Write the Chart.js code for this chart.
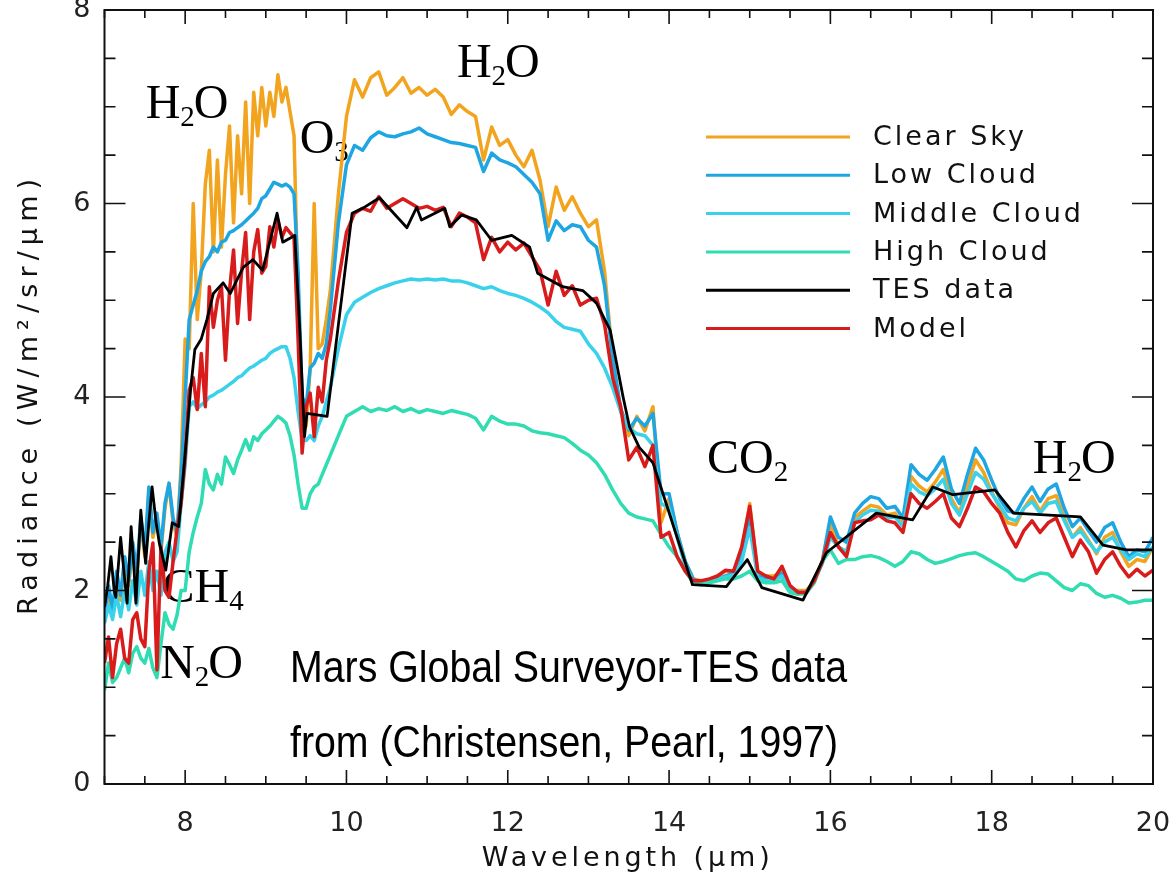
<!DOCTYPE html>
<html>
<head>
<meta charset="utf-8">
<title>Mars spectrum: TES data vs cloud models</title>
<script src="https://cdn.jsdelivr.net/npm/chart.js@4.4.1/dist/chart.umd.min.js"></script>
<style>
  html, body { margin: 0; padding: 0; background: #fff; }
  #wrap { width: 1176px; height: 884px; }
</style>
</head>
<body>
<div id="wrap"><canvas id="spectrum" width="1176" height="884"></canvas></div>
<script>
// Wavelength grid (µm) shared by the modelled spectra
const wavelength = [
  7.00, 7.05, 7.10, 7.15, 7.20, 7.25, 7.30, 7.35, 7.40, 7.45, 7.50, 7.55, 7.60, 7.65, 7.70, 7.75, 7.80, 7.85, 7.90, 7.95,
  8.00, 8.05, 8.10, 8.15, 8.20, 8.25, 8.30, 8.35, 8.40, 8.45, 8.50, 8.55, 8.60, 8.65, 8.70, 8.75, 8.80, 8.85, 8.90, 8.95,
  9.00, 9.05, 9.10, 9.15, 9.20, 9.25, 9.30, 9.35, 9.40, 9.45, 9.50, 9.55, 9.60, 9.65, 9.70, 9.75, 9.80,
  9.9, 10.0, 10.1, 10.2, 10.3, 10.4, 10.5, 10.6, 10.7, 10.8, 10.9, 11.0, 11.1, 11.2, 11.3, 11.4, 11.5, 11.6, 11.7, 11.8, 11.9, 12.0,
  12.1, 12.2, 12.3, 12.4, 12.5, 12.6, 12.7, 12.8, 12.9, 13.0, 13.1, 13.2, 13.3, 13.4, 13.5, 13.6, 13.7, 13.8, 13.9, 14.0,
  14.1, 14.2, 14.3, 14.4, 14.5, 14.6, 14.7, 14.8, 14.9, 15.0, 15.1, 15.2, 15.3, 15.4, 15.5, 15.6, 15.7, 15.8, 15.9, 16.0,
  16.1, 16.2, 16.3, 16.4, 16.5, 16.6, 16.7, 16.8, 16.9, 17.0, 17.1, 17.2, 17.3, 17.4, 17.5, 17.6, 17.7, 17.8, 17.9, 18.0,
  18.1, 18.2, 18.3, 18.4, 18.5, 18.6, 18.7, 18.8, 18.9, 19.0, 19.1, 19.2, 19.3, 19.4, 19.5, 19.6, 19.7, 19.8, 19.9, 20.0
];

// Radiance, W/m²/sr/µm
const clearSky = [
  1.7, 2.0, 1.75, 2.15, 1.9, 2.3, 2.05, 2.45, 2.15, 2.7, 2.35, 3.0, 2.55, 2.75, 2.4, 2.85, 3.1, 2.7, 2.55, 3.3,
  4.6, 4.5, 6.0, 4.8, 5.3, 6.2, 6.55, 5.5, 6.45, 5.55, 6.3, 6.8, 5.8, 6.7, 6.1, 7.05, 6.0, 7.15, 6.7, 7.2,
  6.8, 7.15, 6.9, 7.33, 7.05, 7.2, 6.95, 6.7, 5.0, 3.8, 3.7, 4.3, 6.0, 4.5, 4.55, 4.8, 5.1,
  6.1, 6.9, 7.28, 7.1, 7.3, 7.36, 7.12, 7.2, 7.3, 7.14, 7.2, 7.12, 7.18, 7.1, 6.92, 7.02, 6.95, 6.9, 6.45, 6.79, 6.6, 6.66,
  6.5, 6.38, 6.55, 6.24, 5.76, 6.17, 5.93, 6.07, 5.9, 5.76, 5.83, 5.3, 4.4, 3.85, 3.6, 3.8, 3.65, 3.9, 2.7, 2.95,
  2.6, 2.3, 2.12, 2.1, 2.1, 2.15, 2.2, 2.2, 2.4, 2.9, 2.15, 2.15, 2.15, 2.2, 2.0, 2.0, 2.0, 2.1, 2.3, 2.7,
  2.45, 2.4, 2.75, 2.82, 2.88, 2.86, 2.78, 2.8, 2.68, 3.18, 3.08, 3.02, 3.12, 3.25, 2.95, 2.8, 3.08, 3.35, 3.22, 3.02,
  2.85, 2.7, 2.68, 2.85, 2.97, 2.82, 2.95, 2.98, 2.75, 2.55, 2.65, 2.52, 2.38, 2.55, 2.6, 2.4, 2.25, 2.32, 2.3, 2.45
];

const lowCloud = [
  1.75, 2.05, 1.8, 2.2, 1.95, 2.35, 2.1, 2.5, 2.2, 2.75, 2.4, 3.07, 2.6, 2.8, 2.45, 2.9, 3.11, 2.75, 2.6, 3.2,
  4.0, 4.8, 4.95, 5.1, 5.3, 5.4, 5.45, 5.55, 5.5, 5.6, 5.62, 5.7, 5.72, 5.75, 5.78, 5.82, 5.86, 5.9, 5.95, 6.05,
  6.08, 6.15, 6.22, 6.2, 6.18, 6.2, 6.17, 6.1, 5.3, 4.0, 3.9, 4.3, 4.35, 4.45, 4.4, 4.55, 4.9,
  5.8, 6.4, 6.6, 6.55, 6.68, 6.74, 6.7, 6.69, 6.72, 6.74, 6.78, 6.72, 6.69, 6.66, 6.63, 6.62, 6.6, 6.58, 6.33, 6.52, 6.45, 6.42,
  6.38, 6.3, 6.22, 6.1, 5.62, 5.82, 5.72, 5.78, 5.76, 5.62, 5.55, 5.15, 4.4, 3.88, 3.66, 3.78, 3.7, 3.83, 3.0, 3.0,
  2.6, 2.3, 2.12, 2.08, 2.1, 2.12, 2.15, 2.18, 2.35, 2.75, 2.15, 2.12, 2.12, 2.18, 2.0, 1.98, 1.98, 2.1, 2.3, 2.76,
  2.55, 2.5, 2.8, 2.9, 2.97, 2.95, 2.85, 2.87, 2.75, 3.3, 3.2, 3.14, 3.25, 3.38, 3.05, 2.9, 3.2, 3.47, 3.35, 3.14,
  2.95, 2.82, 2.8, 2.95, 3.07, 2.92, 3.05, 3.1, 2.85, 2.66, 2.75, 2.62, 2.5, 2.65, 2.7, 2.5, 2.35, 2.42, 2.4, 2.55
];

const middleCloud = [
  1.66, 1.85, 1.7, 1.95, 1.73, 2.0, 1.8, 2.1, 1.85, 2.2, 1.95, 2.3, 2.0, 2.2, 1.95, 2.4, 2.5, 2.3, 2.4, 2.9,
  3.3, 3.9, 3.95, 3.88, 3.92, 3.95, 4.0, 4.02, 4.05, 4.07, 4.1, 4.13, 4.16, 4.2, 4.22, 4.26, 4.3, 4.32, 4.35, 4.38,
  4.4, 4.45, 4.48, 4.5, 4.52, 4.52, 4.4, 4.2, 3.85, 3.56, 3.55, 3.6, 3.55, 3.7, 3.8, 3.95, 4.1,
  4.5, 4.85, 4.98, 5.03, 5.08, 5.12, 5.15, 5.18, 5.2, 5.22, 5.21, 5.22, 5.21, 5.22, 5.2, 5.2, 5.18, 5.15, 5.12, 5.14, 5.1, 5.07,
  5.05, 5.02, 4.98, 4.93, 4.87, 4.78, 4.72, 4.7, 4.68, 4.55, 4.45, 4.3, 4.1, 3.85, 3.68, 3.62, 3.6, 3.5, 2.9, 2.85,
  2.55, 2.25, 2.1, 2.08, 2.1, 2.12, 2.14, 2.16, 2.3, 2.65, 2.13, 2.1, 2.1, 2.15, 2.0, 1.98, 1.98, 2.1, 2.28, 2.55,
  2.45, 2.4, 2.7, 2.78, 2.83, 2.82, 2.75, 2.76, 2.66, 3.1, 3.02, 2.98, 3.05, 3.15, 2.9, 2.78, 3.0, 3.22, 3.15, 3.0,
  2.88, 2.75, 2.72, 2.85, 2.92, 2.8, 2.9, 2.92, 2.72, 2.55, 2.62, 2.5, 2.4, 2.5, 2.55, 2.42, 2.32, 2.38, 2.35, 2.45
];

const highCloud = [
  0.97, 1.25, 1.05, 1.1, 1.2, 1.3, 1.15, 1.35, 1.42, 1.3, 1.25, 1.4, 1.2, 1.1, 1.45, 1.77, 1.65, 1.6, 1.75, 2.0,
  2.0, 2.4, 2.6, 2.76, 2.9, 3.25, 3.1, 3.04, 3.2, 3.1, 3.38, 3.3, 3.21, 3.35, 3.45, 3.56, 3.45, 3.59, 3.55, 3.62,
  3.66, 3.7, 3.75, 3.8, 3.77, 3.73, 3.6, 3.4, 3.1, 2.85, 2.85, 3.0, 3.07, 3.1, 3.2, 3.3, 3.4,
  3.6, 3.8, 3.85, 3.9, 3.85, 3.88, 3.86, 3.9, 3.85, 3.88, 3.84, 3.87, 3.85, 3.83, 3.86, 3.84, 3.82, 3.78, 3.66, 3.8, 3.75, 3.72,
  3.72, 3.7, 3.65, 3.63, 3.62, 3.6, 3.58, 3.52, 3.45, 3.4, 3.32, 3.2, 3.04, 2.9, 2.8, 2.76, 2.74, 2.72, 2.58, 2.45,
  2.35, 2.2, 2.08, 2.06, 2.08, 2.1, 2.12, 2.12, 2.15, 2.2, 2.1, 2.08, 2.08, 2.1, 1.98, 1.96, 1.97, 2.08, 2.3, 2.42,
  2.28, 2.32, 2.32, 2.35, 2.36, 2.34, 2.3, 2.25, 2.3, 2.4, 2.38, 2.32, 2.28, 2.3, 2.33, 2.36, 2.38, 2.39, 2.35, 2.3,
  2.25, 2.2, 2.12, 2.1, 2.15, 2.18, 2.17, 2.1, 2.03, 2.0, 2.07, 2.05, 1.97, 1.93, 1.95, 1.92, 1.87, 1.88, 1.9, 1.9
];

const model = [
  1.25, 1.52, 1.1, 1.45, 1.6, 1.3, 1.25, 1.7, 1.77, 1.5, 1.42, 2.2, 2.49, 1.18, 2.45, 2.0, 1.93, 2.3, 2.63, 2.9,
  3.38, 4.07, 4.2, 3.87, 4.45, 3.9, 5.14, 4.72, 5.0, 5.14, 4.38, 5.1, 5.52, 4.76, 5.3, 5.7, 4.8, 5.5, 5.73, 5.28,
  5.35, 5.76, 5.55, 5.83, 5.65, 5.75, 5.7, 5.65, 4.6, 3.42, 3.9, 4.04, 3.59, 4.1, 3.95, 4.38, 4.6,
  5.2, 5.7, 5.9, 5.95, 5.92, 6.07, 5.95, 6.0, 6.05, 6.0, 5.95, 5.97, 5.93, 5.96, 5.76, 5.9, 5.86, 5.8, 5.42, 5.65, 5.5, 5.6,
  5.52, 5.59, 5.45, 5.31, 4.95, 5.3, 5.05, 5.15, 4.95, 5.0, 5.02, 4.75, 4.2, 3.9, 3.35, 3.48, 3.28, 3.5, 2.55, 2.6,
  2.35, 2.2, 2.1, 2.1, 2.12, 2.15, 2.21, 2.2, 2.45, 2.87, 2.2, 2.15, 2.12, 2.25, 2.05, 1.98, 1.98, 2.1, 2.3, 2.6,
  2.45, 2.35, 2.7, 2.72, 2.73, 2.78, 2.72, 2.7, 2.6, 3.0, 2.9, 2.85, 2.92, 3.0, 2.75, 2.66, 2.85, 3.07, 3.02, 2.9,
  2.8, 2.6, 2.45, 2.62, 2.72, 2.6, 2.7, 2.75, 2.55, 2.35, 2.52, 2.4, 2.18, 2.32, 2.4, 2.25, 2.14, 2.22, 2.15, 2.21
];

// TES measurement, coarser sampling
const tesWavelength = [
  7.00, 7.04, 7.08, 7.12, 7.14, 7.20, 7.24, 7.28, 7.33, 7.36, 7.39, 7.45, 7.51, 7.55, 7.59, 7.64, 7.68, 7.76, 7.84, 7.92,
  7.99, 8.07, 8.12, 8.20, 8.27, 8.35, 8.47, 8.56, 8.72, 8.84, 8.96, 9.14, 9.21, 9.36, 9.42, 9.48, 9.51, 9.76,
  10.07, 10.20, 10.41, 10.75, 10.87, 10.93, 11.22, 11.28, 11.43, 11.61, 11.80, 12.05, 12.27, 12.37, 12.68, 12.93,
  13.10, 13.27, 13.43, 13.51, 13.63, 13.80, 14.29, 14.71, 14.97, 15.15, 15.66, 15.95, 16.57, 17.02, 17.27, 17.52,
  18.04, 18.27, 19.10, 19.38, 19.67, 20.00
];
const tesRadiance = [
  1.83, 2.05, 2.35, 2.0, 1.93, 2.55, 2.2, 1.87, 2.66, 2.3, 1.87, 2.83, 2.28, 2.7, 3.07, 2.7, 2.49, 2.21, 2.7, 2.66,
  3.32, 4.1, 4.49, 4.6, 4.8, 5.07, 5.18, 5.07, 5.34, 5.42, 5.31, 5.9, 5.6, 5.67, 4.72, 3.59, 3.83, 3.8,
  5.9, 5.95, 6.06, 5.75, 5.96, 5.83, 5.95, 5.76, 5.88, 5.83, 5.62, 5.67, 5.55, 5.28, 5.14, 5.1,
  4.97, 4.69, 4.0, 3.69, 3.48, 3.32, 2.06, 2.04, 2.32, 2.03, 1.9, 2.39, 2.8, 2.73, 3.07, 2.99,
  3.04, 2.8, 2.76, 2.47, 2.42, 2.42
];

const xTicks = [8, 10, 12, 14, 16, 18, 20];
const yTicks = [0, 2, 4, 6, 8];

// Molecular band labels, anchored at [wavelength, radiance] of their baseline start
const bandLabels = [
  { parts: [['H', 0], ['2', 1], ['O', 0]], at: [7.51, 6.88] },
  { parts: [['O', 0], ['3', 1]], at: [9.42, 6.52] },
  { parts: [['H', 0], ['2', 1], ['O', 0]], at: [11.37, 7.31] },
  { parts: [['C', 0], ['O', 0], ['2', 1]], at: [14.47, 3.21] },
  { parts: [['H', 0], ['2', 1], ['O', 0]], at: [18.51, 3.21] },
  { parts: [['C', 0], ['H', 0], ['4', 1]], at: [7.72, 1.88] },
  { parts: [['N', 0], ['2', 1], ['O', 0]], at: [7.69, 1.10] }
];

const sourceNote = [
  { text: 'Mars Global Surveyor-TES data', at: [9.30, 1.054], width: 557 },
  { text: 'from (Christensen, Pearl, 1997)', at: [9.30, 0.279], width: 548 }
];

const AXIS_FONT = "'DejaVu Sans', 'Liberation Sans', sans-serif";
const SERIF_FONT = "'Liberation Serif', 'Times New Roman', serif";

function toPoints(xs, ys) {
  return xs.map((x, i) => ({ x, y: ys[i] }));
}

// legend order = array order; `order` decides stacking (lower is drawn on top)
const datasets = [
  { label: 'Clear Sky',    data: toPoints(wavelength, clearSky),    borderColor: '#f2a41f', order: 5 },
  { label: 'Low Cloud',    data: toPoints(wavelength, lowCloud),    borderColor: '#1ea6e2', order: 4 },
  { label: 'Middle Cloud', data: toPoints(wavelength, middleCloud), borderColor: '#3ad2ea', order: 3 },
  { label: 'High Cloud',   data: toPoints(wavelength, highCloud),   borderColor: '#30dcb2', order: 2 },
  { label: 'TES data',     data: toPoints(tesWavelength, tesRadiance), borderColor: '#000000', borderWidth: 2.8, order: 0 },
  { label: 'Model',        data: toPoints(wavelength, model),       borderColor: '#d81c1c', order: 1 }
];

function drawTracked(ctx, text, x, y, targetWidth) {
  // spread characters so the string spans targetWidth
  ctx.letterSpacing = '0px';
  const w = ctx.measureText(text).width;
  const gap = text.length > 1 ? (targetWidth - w) / (text.length - 1) : 0;
  ctx.letterSpacing = gap.toFixed(2) + 'px';
  ctx.textAlign = 'left';
  ctx.fillText(text, x - targetWidth / 2, y);
  ctx.letterSpacing = '0px';
}

const bandLabelPlugin = {
  id: 'bandLabels',
  beforeDatasetsDraw(chart) {
    const { ctx, scales: { x, y } } = chart;
    ctx.save();
    ctx.fillStyle = '#000';
    ctx.textBaseline = 'alphabetic';
    ctx.textAlign = 'left';
    for (const lab of bandLabels) {
      let px = x.getPixelForValue(lab.at[0]);
      const py = y.getPixelForValue(lab.at[1]);
      for (const [txt, sub] of lab.parts) {
        ctx.font = sub ? `29px ${SERIF_FONT}` : `48px ${SERIF_FONT}`;
        ctx.fillText(txt, px, sub ? py + 8 : py);
        px += ctx.measureText(txt).width - (sub ? 1 : 0);
      }
    }
    // source note
    ctx.font = `44px 'Liberation Sans Narrow', 'Liberation Sans', Arial, sans-serif`;
    for (const line of sourceNote) {
      const px = x.getPixelForValue(line.at[0]);
      const py = y.getPixelForValue(line.at[1]);
      const w = ctx.measureText(line.text).width;
      ctx.save();
      ctx.translate(px, py);
      ctx.scale(line.width / w, 1);
      ctx.fillText(line.text, 0, 0);
      ctx.restore();
    }
    ctx.restore();
  }
};

const framePlugin = {
  id: 'frame',
  afterDatasetsDraw(chart) {
    const { ctx, chartArea: a, scales: { x, y } } = chart;
    ctx.save();
    ctx.strokeStyle = '#111';
    ctx.lineWidth = 2;
    ctx.strokeRect(a.left, a.top, a.right - a.left, a.bottom - a.top);
    ctx.lineWidth = 1.6;
    ctx.beginPath();
    // inward ticks every 0.5, longer on the labelled values
    for (let v = x.min; v <= x.max; v += 0.5) {
      const px = x.getPixelForValue(v);
      const len = v % 2 === 0 ? 14 : 8;
      ctx.moveTo(px, a.bottom); ctx.lineTo(px, a.bottom - len);
      ctx.moveTo(px, a.top); ctx.lineTo(px, a.top + len);
    }
    for (let v = y.min; v <= y.max; v += 0.5) {
      const py = y.getPixelForValue(v);
      const len = v % 2 === 0 ? 21 : 11;
      ctx.moveTo(a.left, py); ctx.lineTo(a.left + len, py);
      ctx.moveTo(a.right, py); ctx.lineTo(a.right - len, py);
    }
    ctx.stroke();
    ctx.restore();
  }
};

const legendAndTitles = {
  id: 'legendAndTitles',
  afterDraw(chart) {
    const { ctx, chartArea: a } = chart;
    ctx.save();
    // legend block, upper right inside the plot
    const x0 = 706, x1 = 850, tx = 873, top = 137, step = 38.3;
    ctx.font = `27px ${AXIS_FONT}`;
    ctx.textBaseline = 'middle';
    ctx.textAlign = 'left';
    chart.data.datasets.forEach((ds, i) => {
      const yy = top + i * step;
      ctx.strokeStyle = ds.borderColor;
      ctx.lineWidth = 3;
      ctx.beginPath();
      ctx.moveTo(x0, yy);
      ctx.lineTo(x1, yy);
      ctx.stroke();
      ctx.fillStyle = '#111';
      ctx.letterSpacing = '3px';
      ctx.fillText(ds.label, tx, yy + 1);
      ctx.letterSpacing = '0px';
    });

    // axis titles
    ctx.fillStyle = '#111';
    ctx.textBaseline = 'middle';
    ctx.font = `27px ${AXIS_FONT}`;
    drawTracked(ctx, 'Wavelength (μm)', (a.left + a.right) / 2 - 3, a.bottom + 75, 288);
    ctx.save();
    ctx.translate(a.left - 75, (a.top + a.bottom) / 2);
    ctx.rotate(-Math.PI / 2);
    drawTracked(ctx, 'Radiance (W/m²/sr/μm)', 0, 0, 436);
    ctx.restore();
    ctx.restore();
  }
};

new Chart(document.getElementById('spectrum'), {
  type: 'line',
  data: { datasets },
  options: {
    responsive: false,
    animation: false,
    devicePixelRatio: 1,
    layout: { padding: { top: 10, right: 23, left: 0, bottom: 0 } },
    elements: {
      point: { radius: 0 },
      line: { borderWidth: 3.5, tension: 0, borderJoinStyle: 'round' }
    },
    plugins: {
      legend: { display: false },
      tooltip: { enabled: false }
    },
    scales: {
      x: {
        type: 'linear',
        min: 7,
        max: 20,
        grid: { display: false, drawTicks: false },
        border: { display: false },
        ticks: {
          autoSkip: false,
          maxRotation: 0,
          padding: 24,
          color: '#222',
          font: { family: AXIS_FONT, size: 27 }
        },
        afterBuildTicks: (s) => { s.ticks = xTicks.map(v => ({ value: v })); },
        afterFit: (s) => { s.height = 100; s.paddingLeft = 0; s.paddingRight = 0; }
      },
      y: {
        type: 'linear',
        min: 0,
        max: 8,
        grid: { display: false, drawTicks: false },
        border: { display: false },
        ticks: {
          padding: 14,
          color: '#222',
          font: { family: AXIS_FONT, size: 27 }
        },
        afterBuildTicks: (s) => { s.ticks = yTicks.map(v => ({ value: v })); },
        afterFit: (s) => { s.width = 104.5; s.paddingTop = 0; s.paddingBottom = 0; }
      }
    }
  },
  plugins: [bandLabelPlugin, framePlugin, legendAndTitles]
});
</script>
</body>
</html>
